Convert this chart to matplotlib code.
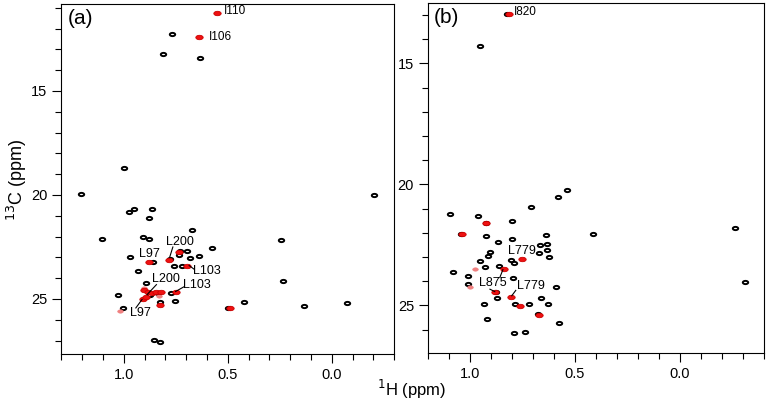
import numpy as np
import matplotlib
matplotlib.use("Agg")
import matplotlib.pyplot as plt
from matplotlib.path import Path
from matplotlib.ticker import MultipleLocator, FormatStrFormatter

plt.rcParams['font.family'] = ['Liberation Sans', 'DejaVu Sans']

# ---- panel (a) peaks: 1H ppm, 13C ppm ----
a_black_h = [0.766, 0.811, 0.633, 0.997, 1.205, -0.202, 0.953, 0.976, 0.864, 0.881,
             0.672, 1.104, 0.907, 0.881, 0.574, 0.245, 0.968, 0.931, 0.638, 0.681,
             0.237, 0.891, 1.027, 1.003, 0.501, 0.422, 0.135, -0.075, 0.857, 0.825,
             0.756, 0.825, 0.774, 0.760, 0.720, 0.779, 0.736, 0.729, 0.696, 0.859,
             0.876, 0.835]
a_black_c = [12.28, 13.22, 13.43, 18.68, 19.93, 19.99, 20.68, 20.81, 20.65, 21.11,
             21.67, 22.10, 22.02, 22.10, 22.55, 22.17, 22.97, 23.66, 22.95, 23.05,
             24.14, 24.22, 24.81, 25.45, 25.42, 25.15, 25.35, 25.18, 26.97, 27.05,
             25.08, 25.13, 24.70, 23.39, 23.39, 23.07, 22.87, 22.67, 22.67, 23.22,
             24.83, 24.70]
a_red_h = [0.551, 0.638, 0.751, 0.696, 0.784, 0.736, 0.878, 0.904, 0.885, 0.865,
           0.845, 0.822, 0.907, 0.893, 0.825, 0.490]
a_red_c = [11.27, 12.42, 24.66, 23.39, 23.13, 22.76, 23.24, 24.59, 24.66, 24.70,
           24.68, 24.68, 24.99, 24.90, 25.29, 25.43]
a_faint_h = [1.016, 0.905, 0.832]
a_faint_c = [25.56, 24.45, 24.85]

a_label_text = ['I110', 'I106', 'L200', 'L97', 'L103', 'L200', 'L103', 'L97']
a_label_h = [0.519, 0.593, 0.731, 0.876, 0.602, 0.795, 0.649, 0.918]
a_label_c = [11.16, 12.42, 22.26, 22.84, 23.66, 24.04, 24.33, 25.67]
# leader lines: (h0, c0, h1, c1)
a_leaders = [(0.764, 22.50, 0.779, 22.98), (0.686, 23.39, 0.663, 23.56),
             (0.843, 24.31, 0.888, 24.79), (0.712, 24.42, 0.751, 24.64),
             (0.942, 25.43, 0.912, 25.02)]

# ---- panel (b) peaks ----
b_black_h = [0.826, 0.951, 0.580, 0.538, 1.094, 0.964, 0.924, 0.802, 0.707, 0.922,
             0.802, 0.867, 0.638, 0.416, -0.263, 0.667, 0.632, 0.633, 0.671, 0.622,
             0.905, 0.914, 0.951, 0.805, 0.792, 0.927, 0.864, 1.079, 1.008, 0.795,
             -0.311, 1.011, 0.588, 0.869, 0.660, 0.932, 0.784, 0.721, 0.630, 0.676,
             0.921, 0.575, 0.790, 0.738, 0.874, 1.043]
b_black_c = [12.95, 14.27, 20.52, 20.25, 21.23, 21.30, 21.58, 21.50, 20.95, 22.13,
             22.24, 22.36, 22.10, 22.05, 21.79, 22.50, 22.45, 22.72, 22.82, 22.99,
             22.79, 22.97, 23.17, 23.14, 23.26, 23.40, 23.39, 23.61, 23.77, 23.87,
             24.02, 24.10, 24.23, 24.71, 24.70, 24.95, 24.95, 24.93, 24.95, 25.36,
             25.57, 25.72, 26.15, 26.08, 24.43, 22.05]
b_red_h = [0.815, 0.924, 1.040, 0.751, 0.840, 0.880, 0.805, 0.762, 0.672]
b_red_c = [12.97, 21.58, 22.05, 23.08, 23.48, 24.45, 24.66, 25.01, 25.38]
b_faint_h = [0.976, 0.999]
b_faint_c = [23.48, 24.24]

b_label_text = ['I820', 'L779', 'L875', 'L779']
b_label_h = [0.792, 0.752, 0.889, 0.710]
b_label_c = [12.88, 22.77, 24.08, 24.21]
b_leaders = [(0.858, 23.85, 0.843, 23.52), (0.905, 24.33, 0.882, 24.43),
             (0.782, 24.38, 0.801, 24.60)]

# elliptical peak marker
t = np.linspace(0, 2 * np.pi, 40)
ell = Path(np.column_stack([np.cos(t), 0.6 * np.sin(t)]), closed=True)

fig = plt.figure(figsize=(7.67, 4.04), dpi=100)
ax_a = fig.add_axes([0.080, 0.124, 0.434, 0.866])
ax_b = fig.add_axes([0.558, 0.126, 0.438, 0.867])


def draw_panel(ax, bh, bc, rh, rc, fh, fc, texts, lh, lc, leaders, fsize):
    ax.scatter(bh, bc, s=15, marker=ell, facecolor='white', edgecolor='black',
               linewidth=1.4, zorder=3)
    ax.scatter(fh, fc, s=16, marker=ell, facecolor='#f08080', edgecolor='#f08080',
               linewidth=0.5, zorder=4)
    ax.scatter(rh, rc, s=28, marker=ell, facecolor='#ee1111', edgecolor='#cc0000',
               linewidth=0.6, zorder=5)
    for txt, x, y, fs in zip(texts, lh, lc, fsize):
        ax.text(x, y, txt, fontsize=fs, ha='left' if txt[0] == 'I' else 'center',
                va='center', zorder=6)
    for h0, c0, h1, c1 in leaders:
        ax.plot([h0, h1], [c0, c1], color='black', lw=0.8, zorder=6)
    ax.xaxis.set_major_locator(MultipleLocator(0.5))
    ax.xaxis.set_minor_locator(MultipleLocator(0.1))
    ax.yaxis.set_major_locator(MultipleLocator(5))
    ax.yaxis.set_minor_locator(MultipleLocator(1))
    ax.xaxis.set_major_formatter(FormatStrFormatter('%.1f'))
    ax.tick_params(which='major', direction='out', length=6.5, width=0.8, labelsize=10.5)
    ax.tick_params(which='minor', direction='out', length=4, width=0.8)
    for sp in ax.spines.values():
        sp.set_linewidth(0.8)


draw_panel(ax_a, a_black_h, a_black_c, a_red_h, a_red_c, a_faint_h, a_faint_c,
           a_label_text, a_label_h, a_label_c, a_leaders,
           [8.5, 8.5, 9, 9, 9, 9, 9, 9])
ax_a.set_xlim(1.3, -0.3)
ax_a.set_ylim(27.64, 10.82)
ax_a.text(0.018, 0.985, '(a)', transform=ax_a.transAxes, fontsize=15, va='top', ha='left')

draw_panel(ax_b, b_black_h, b_black_c, b_red_h, b_red_c, b_faint_h, b_faint_c,
           b_label_text, b_label_h, b_label_c, b_leaders,
           [8.5, 9, 9, 9])
ax_b.set_xlim(1.2, -0.4)
ax_b.set_ylim(26.97, 12.5)
ax_b.text(0.018, 0.985, '(b)', transform=ax_b.transAxes, fontsize=15, va='top', ha='left')

fig.text(0.536, 0.035, r'$^{1}$H (ppm)', fontsize=12, ha='center', va='center')
fig.text(0.022, 0.556, r'$^{13}$C (ppm)', fontsize=13, ha='center', va='center',
         rotation=90)

fig.savefig('out.png', dpi=100)
